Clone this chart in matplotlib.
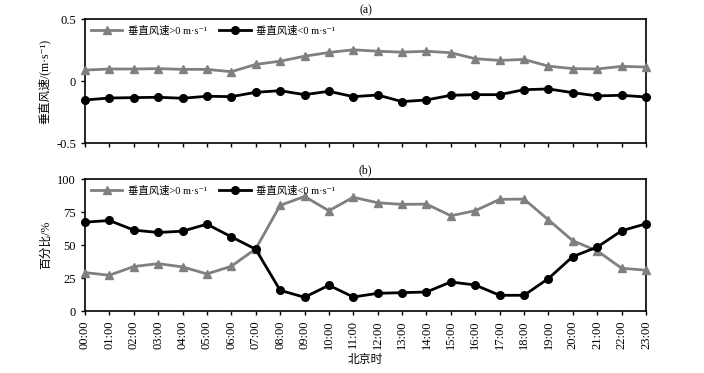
import matplotlib

matplotlib.use("Agg")
import matplotlib.pyplot as plt

plt.rcParams["font.family"] = ["Liberation Serif", "Noto Sans CJK SC", "DejaVu Sans"]

hours = [f"{h:02d}:00" for h in range(24)]

# (a) mean vertical wind speed, m/s
speed_up = [0.088, 0.097, 0.097, 0.100, 0.094, 0.094, 0.075, 0.134, 0.160, 0.200,
            0.230, 0.252, 0.240, 0.233, 0.240, 0.228, 0.180, 0.166, 0.174, 0.120,
            0.100, 0.097, 0.118, 0.113]
speed_down = [-0.153, -0.137, -0.134, -0.131, -0.139, -0.123, -0.126, -0.091, -0.078, -0.110,
              -0.083, -0.126, -0.113, -0.166, -0.153, -0.115, -0.110, -0.110, -0.070, -0.064,
              -0.094, -0.120, -0.115, -0.129]

# (b) percentage of samples
pct_up = [29.1, 27.1, 33.7, 35.9, 33.4, 28.1, 33.9, 47.1, 80.0, 86.8,
          76.0, 86.2, 82.0, 80.8, 81.0, 72.2, 76.0, 84.6, 84.8, 69.1,
          53.2, 45.6, 32.4, 30.9]
pct_down = [67.3, 68.6, 61.3, 59.5, 60.5, 65.8, 56.2, 46.8, 15.7, 10.4,
            19.5, 10.6, 13.4, 13.9, 14.4, 22.0, 19.7, 11.9, 11.9, 24.6,
            41.3, 48.4, 60.8, 66.1]

label_up = "垂直风速>0 m·s\u207b\u00b9"
label_down = "垂直风速<0 m·s\u207b\u00b9"

x = list(range(len(hours)))

fig = plt.figure(figsize=(7.04, 3.73), dpi=100)
ax1 = fig.add_axes([0.1207, 0.6166, 0.7969, 0.3324])
ax2 = fig.add_axes([0.1207, 0.1662, 0.7969, 0.3538])


def style_axis(ax):
    ax.set_xlim(0, 23)
    ax.set_xticks(x)
    ax.tick_params(direction="out", length=3, width=1, labelsize=9, right=False, top=False)
    for s in ax.spines.values():
        s.set_linewidth(1.2)


def add_legend(ax):
    ax.legend(loc="upper left", ncol=2, frameon=False, fontsize=7.5, handlelength=3,
              borderaxespad=0.2, columnspacing=1.2, handletextpad=0.5)


ax1.plot(x, speed_up, color="#808080", lw=2, marker="^", ms=5.5, label=label_up, clip_on=False, zorder=3)
ax1.plot(x, speed_down, color="black", lw=2, marker="o", ms=5.5, label=label_down, clip_on=False, zorder=3)
style_axis(ax1)
ax1.set_ylim(-0.5, 0.5)
ax1.set_yticks([-0.5, 0, 0.5])
ax1.set_yticklabels(["-0.5", "0", "0.5"])
ax1.set_xticklabels([])
ax1.set_ylabel("垂直风速/(m·s\u207b\u00b9)", fontsize=8.5)
ax1.set_title("(a)", fontsize=8.5, pad=4)
add_legend(ax1)

ax2.plot(x, pct_up, color="#808080", lw=2, marker="^", ms=5.5, label=label_up, clip_on=False, zorder=3)
ax2.plot(x, pct_down, color="black", lw=2, marker="o", ms=5.5, label=label_down, clip_on=False, zorder=3)
style_axis(ax2)
ax2.set_ylim(0, 100)
ax2.set_yticks([0, 25, 50, 75, 100])
ax2.set_xticklabels(hours, rotation=90)
ax2.set_ylabel("百分比/%", fontsize=8.5)
ax2.set_xlabel("北京时", fontsize=8.5)
ax2.set_title("(b)", fontsize=8.5, pad=4)
add_legend(ax2)

fig.savefig("out.png", dpi=100)
